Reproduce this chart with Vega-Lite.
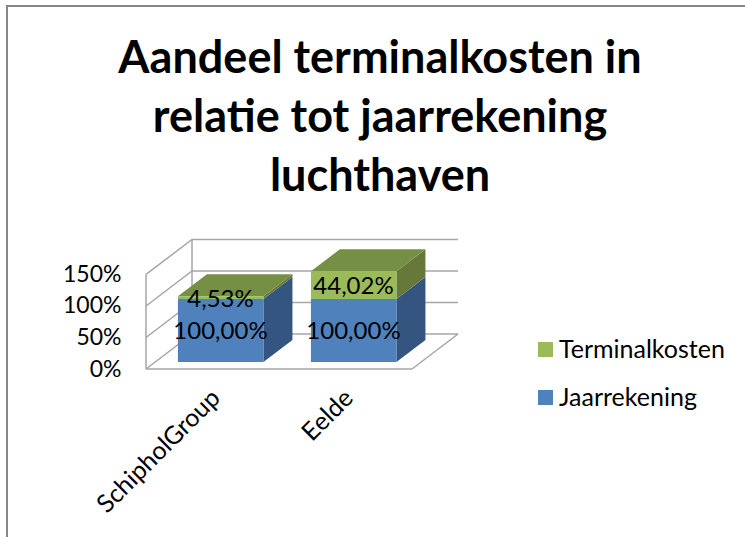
{
"$schema":"https://vega.github.io/schema/vega-lite/v6.json",
"width":760,"height":550,
"autosize":"none",
"padding":{"left":7,"top":6,"right":0,"bottom":0},
"background":"white",
"view":{"stroke":"#868686","strokeWidth":2,"fill":"white"},
"config":{"font":"Lato","axis":{"grid":false}},
"title":{"text":["Aandeel terminalkosten in","relatie tot jaarrekening","luchthaven"],"font":"Lato","fontSize":45,"fontWeight":"bold","color":"black","anchor":"middle","dx":-7,"baseline":"top","offset":-194,"lineHeight":59,"orient":"top"},
"data":{"values":[
{"category":"SchipholGroup","series":"Jaarrekening","value":100},
{"category":"SchipholGroup","series":"Terminalkosten","value":4.53},
{"category":"Eelde","series":"Jaarrekening","value":100},
{"category":"Eelde","series":"Terminalkosten","value":44.02}
]},
"transform":[
{"stack":"value","groupby":["category"],"sort":[{"field":"series","order":"ascending"}],"as":["base","top"]},
{"calculate":"indexof(['SchipholGroup','Eelde'],datum.category)","as":"idx"},
{"calculate":"datum.idx+0.24","as":"xl"},
{"calculate":"datum.idx+0.883","as":"xr"},
{"calculate":"datum.base+11.1","as":"yb"},
{"calculate":"datum.top+11.1","as":"yt"},
{"calculate":"replace(format(datum.value,'.2f'),'.',',')+'%'","as":"label"}
],
"layer":[
{"data":{"values":[{"tick":0},{"tick":50},{"tick":100},{"tick":150}]},
 "transform":[{"calculate":"[0,1,2]","as":"p"},{"flatten":["p"]},
  {"calculate":"datum.p==0?0:(datum.p==1?0.346:2.346)","as":"wx"},
  {"calculate":"datum.tick+(datum.p>0?55.5:0)","as":"wy"}],
 "mark":{"type":"line","color":"#a6a6a6","strokeWidth":1.5},
 "encoding":{
  "x":{"field":"wx","type":"quantitative","scale":{"domain":[0,2],"range":[139,405],"nice":false,"zero":false},"axis":null},
  "y":{"field":"wy","type":"quantitative","scale":{"domain":[0,576],"range":[363,0],"nice":false},
   "axis":{"values":[0,50,100,150],"offset":-139,"domain":false,"ticks":false,"title":null,"labelPadding":25,"labelFontSize":23,"labelFont":"Lato","labelColor":"black","labelExpr":"datum.value+'%'"}},
  "detail":{"field":"tick"}}},
{"data":{"values":[{"edge":"front","x0":0,"x1":0,"y0":0,"y1":150},{"edge":"back","x0":0.346,"x1":0.346,"y0":55.5,"y1":205.5},{"edge":"floor","x0":0,"x1":2,"y0":0,"y1":0},{"edge":"side","x0":2,"x1":2.346,"y0":0,"y1":55.5}]},
 "mark":{"type":"rule","color":"#a6a6a6","strokeWidth":1.5},
 "encoding":{
  "x":{"field":"x0","type":"quantitative","scale":{"domain":[0,2],"range":[139,405],"nice":false,"zero":false},"axis":null},
  "x2":{"field":"x1"},
  "y":{"field":"y0","type":"quantitative","title":null},
  "y2":{"field":"y1"}}},
{"mark":{"type":"rule","opacity":0},
 "encoding":{
  "x":{"field":"category","type":"nominal","sort":["SchipholGroup","Eelde"],"scale":{"type":"band","domain":["SchipholGroup","Eelde"],"range":[139,405],"paddingInner":0,"paddingOuter":0},
   "axis":{"orient":"bottom","offset":-187,"domain":false,"ticks":false,"title":null,"labelAngle":-45,"labelFontSize":25,"labelFont":"Lato","labelColor":"black","labelPadding":16,"labelOffset":-5}}}},
{"transform":[{"calculate":"[0,1]","as":"d"},{"flatten":["d"]},
  {"calculate":"datum.xr+datum.d*0.218","as":"sx"},
  {"calculate":"datum.yb+datum.d*34.9","as":"sy0"},
  {"calculate":"datum.yt+datum.d*34.9","as":"sy1"}],
 "mark":{"type":"area"},
 "encoding":{
  "x":{"field":"sx","type":"quantitative","scale":{"domain":[0,2],"range":[139,405],"nice":false,"zero":false},"axis":null},
  "y":{"field":"sy0","type":"quantitative","title":null},
  "y2":{"field":"sy1"},
  "detail":[{"field":"series"},{"field":"category"}],
  "fill":{"condition":{"test":"datum.series=='Terminalkosten'","value":"#66793a"},"value":"#345580"}}},
{"transform":[{"filter":"datum.series=='Terminalkosten'"},{"calculate":"[0,1,2,3]","as":"p"},{"flatten":["p"]},
  {"calculate":"(datum.p%2==0?0:0.218)+(datum.p<2?datum.xl:datum.xr)","as":"tx"},
  {"calculate":"datum.yt+(datum.p==3?34.9:0)","as":"ty0"},
  {"calculate":"datum.yt+(datum.p==0?0:34.9)","as":"ty1"}],
 "mark":{"type":"area","color":"#758f45"},
 "encoding":{
  "x":{"field":"tx","type":"quantitative","scale":{"domain":[0,2],"range":[139,405],"nice":false,"zero":false},"axis":null},
  "y":{"field":"ty0","type":"quantitative","title":null},
  "y2":{"field":"ty1"},
  "detail":{"field":"category"}}},
{"mark":{"type":"rect"},
 "encoding":{
  "x":{"field":"xl","type":"quantitative","scale":{"domain":[0,2],"range":[139,405],"nice":false,"zero":false},"axis":null},
  "x2":{"field":"xr"},
  "y":{"field":"yb","type":"quantitative","title":null},
  "y2":{"field":"yt"},
  "color":{"field":"series","type":"nominal","scale":{"domain":["Terminalkosten","Jaarrekening"],"range":["#9bbb59","#4f81bd"]},
   "legend":{"orient":"none","legendX":526,"legendY":331,"title":null,"symbolType":"square","symbolSize":225,"symbolOpacity":1,"labelFontSize":25,"labelFont":"Lato","labelColor":"black","labelLimit":300,"rowPadding":22,"labelOffset":1,"symbolStrokeWidth":0}}}},
{"transform":[{"calculate":"datum.xl+0.32","as":"tx"},{"calculate":"(datum.yb+datum.yt)/2","as":"ty"}],
 "mark":{"type":"text","font":"Lato","fontSize":24,"color":"black","baseline":"middle","align":"center","dy":2},
 "encoding":{
  "x":{"field":"tx","type":"quantitative","scale":{"domain":[0,2],"range":[139,405],"nice":false,"zero":false},"axis":null},
  "y":{"field":"ty","type":"quantitative","title":null},
  "text":{"field":"label"}}}
],
"resolve":{"scale":{"x":"independent"},"axis":{"x":"independent"}}
}
